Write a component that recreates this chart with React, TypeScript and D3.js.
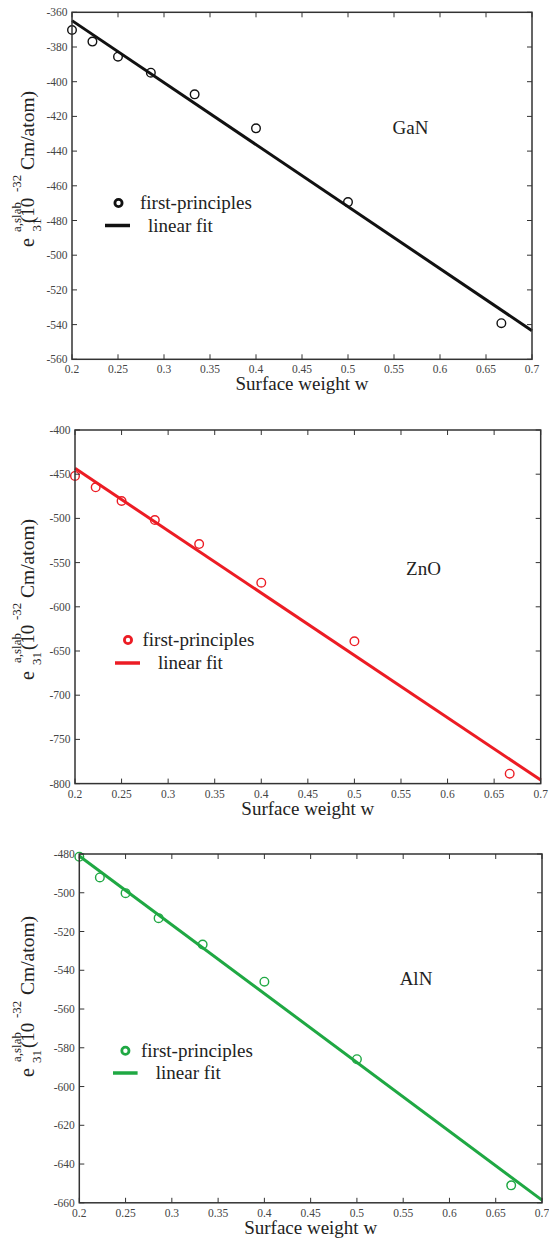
import React from "react";
import * as d3 from "d3";

const W_VALUES = [0.2, 0.2222, 0.25, 0.2857, 0.3333, 0.4, 0.5, 0.6667];
const GAN_VALUES = [-370.2, -376.9, -385.6, -394.8, -407.3, -426.9, -469.4, -539.2];
const ZNO_VALUES = [-452, -464.8, -480.3, -501.8, -529, -572.7, -639, -788.8];
const ALN_VALUES = [-481.4, -492.1, -500.2, -513.1, -526.7, -545.9, -585.9, -651];
const FIT_W = [0.2, 0.7];
const GAN_FIT = [-364.8, -543.5];
const ZNO_FIT = [-443.4, -796];
const ALN_FIT = [-481, -658.6];
const X_TICKS = [0.2, 0.25, 0.3, 0.35, 0.4, 0.45, 0.5, 0.55, 0.6, 0.65, 0.7];
const GAN_Y_TICKS = [-360, -380, -400, -420, -440, -460, -480, -500, -520, -540, -560];
const ZNO_Y_TICKS = [-400, -450, -500, -550, -600, -650, -700, -750, -800];
const ALN_Y_TICKS = [-480, -500, -520, -540, -560, -580, -600, -620, -640, -660];
const MATERIALS = ["GaN", "ZnO", "AlN"];
const LEGEND_LABELS = ["first-principles", "linear fit"];
const X_TITLE = "Surface weight w";

const FONT = "Liberation Serif, Times New Roman, Times, serif";
const AXIS_COLOR = "#333";
const TICK_COLOR = "#444";

type PanelCfg = {
  name: string;
  color: string;
  values: number[];
  fit: number[];
  yTicks: number[];
  yDomain: [number, number];
  box: { x0: number; x1: number; y0: number; y1: number };
  legend: { cx: number; cy: number; tx: number; lx0: number; lx1: number; ly: number; lt: number };
  label: { x: number; y: number };
  ylab: { bottom: number; sub: number; sup: number; paren: number; sup2: number; unit: number };
};

const PANELS: PanelCfg[] = [
  {
    name: MATERIALS[0],
    color: "#111",
    values: GAN_VALUES,
    fit: GAN_FIT,
    yTicks: GAN_Y_TICKS,
    yDomain: [-560, -360],
    box: { x0: 72, x1: 532, y0: 12.3, y1: 359.3 },
    legend: { cx: 118.5, cy: 203, tx: 140, lx0: 105, lx1: 130, ly: 225.5, lt: 148 },
    label: { x: 410.5, y: 127 },
    ylab: { bottom: 247, sub: 15.5, sup: 15, paren: 24, sup2: 55, unit: 77 },
  },
  {
    name: MATERIALS[1],
    color: "#ec1c24",
    values: ZNO_VALUES,
    fit: ZNO_FIT,
    yTicks: ZNO_Y_TICKS,
    yDomain: [-800, -400],
    box: { x0: 75, x1: 540.7, y0: 430, y1: 783.6 },
    legend: { cx: 128, cy: 640, tx: 142.5, lx0: 115, lx1: 140, ly: 663, lt: 158 },
    label: { x: 423.5, y: 568 },
    ylab: { bottom: 680, sub: 15, sup: 17, paren: 30, sup2: 60, unit: 82 },
  },
  {
    name: MATERIALS[2],
    color: "#1fa843",
    values: ALN_VALUES,
    fit: ALN_FIT,
    yTicks: ALN_Y_TICKS,
    yDomain: [-660, -480],
    box: { x0: 79.3, x1: 542, y0: 854, y1: 1202.8 },
    legend: { cx: 125.4, cy: 1050.7, tx: 141, lx0: 113, lx1: 137.6, ly: 1073, lt: 155.8 },
    label: { x: 416, y: 978 },
    ylab: { bottom: 1077, sub: 14, sup: 15, paren: 29, sup2: 59, unit: 82 },
  },
];

function Panel({ cfg }: { cfg: PanelCfg }) {
  const { box } = cfg;
  const x = d3.scaleLinear().domain([0.2, 0.7]).range([box.x0, box.x1]);
  const y = d3.scaleLinear().domain(cfg.yDomain).range([box.y1, box.y0]);
  const line = d3
    .line<number>()
    .x((_, i) => x(FIT_W[i]))
    .y((d) => y(d));
  const tl = 5;
  const fmtY = (v: number) => String(v);
  const fmtX = (v: number) => String(+v.toFixed(2));
  const yl = cfg.ylab;
  return (
    <g>
      <path d={line(cfg.fit) || ""} stroke={cfg.color} strokeWidth={3} fill="none" />
      {cfg.values.map((v, i) => (
        <circle key={i} cx={x(W_VALUES[i])} cy={y(v)} r={4.3} fill="none" stroke={cfg.color} strokeWidth={1.4} />
      ))}
      <rect x={box.x0} y={box.y0} width={box.x1 - box.x0} height={box.y1 - box.y0} fill="none" stroke={AXIS_COLOR} strokeWidth={1.5} />
      {X_TICKS.map((t, i) => (
        <g key={"xt" + i}>
          <line x1={x(t)} x2={x(t)} y1={box.y1} y2={box.y1 - tl} stroke={AXIS_COLOR} strokeWidth={1} />
          <line x1={x(t)} x2={x(t)} y1={box.y0} y2={box.y0 + tl} stroke={AXIS_COLOR} strokeWidth={1} />
          <text x={x(t)} y={box.y1 + 14} textAnchor="middle" fontSize={11.5} fill={TICK_COLOR}>
            {fmtX(t)}
          </text>
        </g>
      ))}
      {cfg.yTicks.map((t, i) => (
        <g key={"yt" + i}>
          <line x1={box.x0} x2={box.x0 + tl} y1={y(t)} y2={y(t)} stroke={AXIS_COLOR} strokeWidth={1} />
          <line x1={box.x1} x2={box.x1 - tl} y1={y(t)} y2={y(t)} stroke={AXIS_COLOR} strokeWidth={1} />
          <text x={box.x0 - 4.5} y={y(t)} dy="0.35em" textAnchor="end" fontSize={11.5} fill={TICK_COLOR}>
            {fmtY(t)}
          </text>
        </g>
      ))}
      <text x={(box.x0 + box.x1) / 2} y={box.y1 + 31} textAnchor="middle" fontSize={19} fill="#222">
        {X_TITLE}
      </text>
      <g transform={`translate(34,${yl.bottom}) rotate(-90)`} fill="#222">
        <text x={0} y={0} fontSize={20}>e</text>
        <text x={yl.sub} y={6.5} fontSize={13}>31</text>
        <text x={yl.sup} y={-13.5} fontSize={13}>a,slab</text>
        <text x={yl.paren} y={0} fontSize={19}>(10</text>
        <text x={yl.sup2} y={-13.5} fontSize={13}>-32</text>
        <text x={yl.unit} y={0} fontSize={19.5}>Cm/atom)</text>
      </g>
      <text x={cfg.label.x} y={cfg.label.y + 6.5} textAnchor="middle" fontSize={19} fill="#222">
        {cfg.name}
      </text>
      <circle cx={cfg.legend.cx} cy={cfg.legend.cy} r={3.6} fill="none" stroke={cfg.color} strokeWidth={2.8} />
      <text x={cfg.legend.tx} y={cfg.legend.cy + 6} fontSize={19} fill="#222">
        {LEGEND_LABELS[0]}
      </text>
      <line x1={cfg.legend.lx0} x2={cfg.legend.lx1} y1={cfg.legend.ly} y2={cfg.legend.ly} stroke={cfg.color} strokeWidth={3.5} />
      <text x={cfg.legend.lt} y={cfg.legend.ly + 6} fontSize={19} fill="#222">
        {LEGEND_LABELS[1]}
      </text>
    </g>
  );
}

export default function App() {
  return (
    <svg
      width={549}
      height={1238}
      viewBox="0 0 549 1238"
      fontFamily={FONT}
      style={{ position: "absolute", left: 0, top: 0, background: "#fff", fontFamily: FONT }}
    >
      {PANELS.map((p) => (
        <Panel key={p.name} cfg={p} />
      ))}
    </svg>
  );
}
